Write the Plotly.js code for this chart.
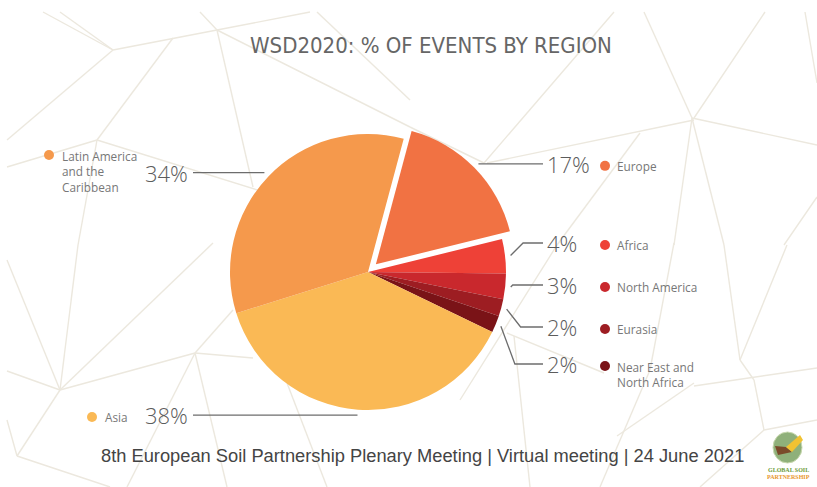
<!DOCTYPE html>
<html>
<head>
<meta charset="utf-8">
<script src="https://cdn.plot.ly/plotly-3.0.1.min.js"></script>
<style>
  html, body { margin: 0; padding: 0; background: #fff; }
  #chart { width: 817px; height: 487px; }
</style>
</head>
<body>
<div id="chart"></div>
<script>
// ----- data -----
const regions = ["Europe", "Africa", "North America", "Eurasia",
  "Near East and North Africa", "Asia", "Latin America and the Caribbean"];
const regionLabels = ["Europe", "Africa", "North America", "Eurasia",
  "Near East and<br>North Africa", "Asia", "Latin America<br>and the<br>Caribbean"];
const shares = [17, 4, 3, 2, 2, 38, 34];
const colors = ["#f17243", "#ee4137", "#c9282d", "#9d1d22", "#7a1317", "#fab955", "#f5994c"];
const pulls = [0.08, 0, 0, 0, 0, 0, 0];

// ----- geometry (px, page coords) -----
const W = 817, H = 487;
const CX = 368, CY = 272, R = 138, ROT = 15;
const maxPull = Math.max(...pulls);
const px = (x) => x / W;
const py = (y) => 1 - y / H;

// where each label sits: side, row y (null = keep leader horizontal), dot/name placement
const spots = [
  { side: "r", row: null },
  { side: "r", row: 243 },
  { side: "r", row: 285 },
  { side: "r", row: 327 },
  { side: "r", row: 364 },
  { side: "l", row: null, dotX: 92, dotY: 417, nameX: 103, nameY: 417, nameAnchor: "middle" },
  { side: "l", row: null, dotX: 49, dotY: 155, nameX: 60, nameY: 146, nameAnchor: "top" }
];

// background net (decoration)
const net = [
  [43,12,113,50],[113,50,217,30],[217,30,310,12],[200,12,217,30],[217,30,253,187],
  [217,30,410,127],[410,127,484,163],[113,50,7,140],[173,38,97,140],[97,140,7,167],
  [97,140,267,193],[97,140,78,245],[317,12,410,100],[614,12,484,163],[644,12,692,118],
  [765,12,694,118],[694,120,487,163],[692,118,817,145],[692,118,674,245],[692,118,724,245],
  [640,133,557,245],[805,12,817,83],[817,197,784,245],[7,260,60,390],[78,245,60,390],
  [7,371,60,390],[60,390,195,353],[195,353,253,358],[213,243,60,390],[195,353,233,310],
  [195,353,227,487],[195,353,127,487],[17,456,60,390],[17,456,110,487],[287,383,327,487],
  [674,243,650,370],[724,245,740,360],[787,245,740,360],[694,386,817,368],[507,333,604,373],
  [514,336,530,487],[754,380,764,430],[617,436,694,383],[557,245,460,400],[650,370,600,487],
  [740,360,754,380],[764,430,817,420],[764,430,700,487],[7,420,17,456],[60,12,113,50]
];

const shapes = net.map(([x0, y0, x1, y1]) => ({
  type: "line", xref: "paper", yref: "paper", layer: "below",
  x0: px(x0), y0: py(y0), x1: px(x1), y1: py(y1),
  line: { color: "#ece8de", width: 1.4 }
}));

const annotations = [];
const total = shares.reduce((a, b) => a + b, 0);
let cum = 0;
const textFont = { family: "Open Sans, sans-serif", size: 22, color: "#5c5c5c", weight: 300 };
const nameFont = { family: "Open Sans, sans-serif", size: 11.8, color: "#777" };

shares.forEach((v, i) => {
  const mid = (ROT + 360 * (cum + v / 2) / total) * Math.PI / 180;
  cum += v;
  const ox = CX + pulls[i] * R * Math.sin(mid);
  const oy = CY - pulls[i] * R * Math.cos(mid);
  const sx = ox + 1.04 * R * Math.sin(mid);
  const sy = oy - 1.04 * R * Math.cos(mid);
  const s = spots[i];
  const ly = s.row == null ? sy : s.row;
  let path;
  if (s.side === "r") {
    const dy = Math.abs(ly - sy);
    const ex = s.row == null ? sx : sx + Math.min(dy, 14);
    path = `M${px(sx)},${py(sy)} L${px(ex)},${py(ly)} L${px(543)},${py(ly)}`;
    annotations.push({ text: v + "%", xref: "paper", yref: "paper", x: px(545), y: py(ly),
      xanchor: "left", yanchor: "middle", showarrow: false, font: textFont });
    shapes.push({ type: "circle", xref: "paper", yref: "paper",
      x0: px(600), x1: px(610), y0: py(ly - 5 + 2), y1: py(ly + 5 + 2),
      fillcolor: colors[i], line: { width: 0 } });
    annotations.push({ text: regionLabels[i], xref: "paper", yref: "paper", x: px(615),
      y: py(ly + 2 - (regionLabels[i].includes("<br>") ? -8 : 0)),
      xanchor: "left", yanchor: "middle", align: "left", showarrow: false, font: nameFont });
  } else {
    path = `M${px(sx)},${py(sy)} L${px(193)},${py(ly)}`;
    annotations.push({ text: v + "%", xref: "paper", yref: "paper", x: px(190), y: py(ly),
      xanchor: "right", yanchor: "middle", showarrow: false, font: textFont });
    shapes.push({ type: "circle", xref: "paper", yref: "paper",
      x0: px(s.dotX - 5), x1: px(s.dotX + 5), y0: py(s.dotY - 5), y1: py(s.dotY + 5),
      fillcolor: colors[i], line: { width: 0 } });
    annotations.push({ text: regionLabels[i], xref: "paper", yref: "paper", x: px(s.nameX),
      y: py(s.nameY), xanchor: "left", yanchor: s.nameAnchor, align: "left",
      showarrow: false, font: nameFont });
  }
  shapes.push({ type: "path", xref: "paper", yref: "paper", path: path,
    line: { color: "#6d6d6d", width: 1.3 } });
});

// title, footer, logo
annotations.push({
  text: "WSD2020: % OF EVENTS BY REGION", xref: "paper", yref: "paper",
  x: px(431), y: py(46), xanchor: "center", yanchor: "middle", showarrow: false,
  font: { family: "Liberation Sans Narrow, DejaVu Sans Condensed, sans-serif", size: 22, color: "#666" }
});
annotations.push({
  text: "8th European Soil Partnership Plenary Meeting | Virtual meeting | 24 June 2021",
  xref: "paper", yref: "paper", x: px(422), y: py(455), xanchor: "center", yanchor: "middle",
  showarrow: false,
  font: { family: "Liberation Sans Narrow, sans-serif", size: 18.3, color: "#444" }
});
shapes.push({ type: "circle", xref: "paper", yref: "paper",
  x0: px(773), x1: px(802), y0: py(432), y1: py(463),
  fillcolor: "#8fb07a", line: { color: "#c9d9b0", width: 1 } });
shapes.push({ type: "path", xref: "paper", yref: "paper",
  path: `M${px(775)},${py(446)} L${px(786)},${py(447)} L${px(792)},${py(452)} L${px(778)},${py(455)} Z`,
  fillcolor: "#7a4a2a", line: { width: 0 } });
shapes.push({ type: "path", xref: "paper", yref: "paper",
  path: `M${px(786)},${py(447)} L${px(800)},${py(435)} L${px(803)},${py(440)} L${px(792)},${py(452)} Z`,
  fillcolor: "#f1c232", line: { width: 0 } });
annotations.push({ text: "<b>GLOBAL SOIL</b>", xref: "paper", yref: "paper", x: px(788), y: py(470),
  xanchor: "center", yanchor: "middle", showarrow: false,
  font: { family: "Liberation Serif, serif", size: 6, color: "#6a9a3a" } });
annotations.push({ text: "<b>PARTNERSHIP</b>", xref: "paper", yref: "paper", x: px(788), y: py(477),
  xanchor: "center", yanchor: "middle", showarrow: false,
  font: { family: "Liberation Serif, serif", size: 6, color: "#e8962c" } });

const half = R * (1 + maxPull);
const traces = [{
  type: "pie",
  labels: regions,
  values: shares,
  sort: false,
  direction: "clockwise",
  rotation: ROT,
  pull: pulls,
  marker: { colors: colors, line: { width: 0 } },
  textinfo: "none",
  hoverinfo: "label+percent",
  domain: { x: [px(CX - half), px(CX + half)], y: [py(CY + half), py(CY - half)] }
}];

const layout = {
  width: W, height: H,
  margin: { l: 0, r: 0, t: 0, b: 0 },
  paper_bgcolor: "#ffffff",
  showlegend: false,
  shapes: shapes,
  annotations: annotations
};

Plotly.newPlot("chart", traces, layout, { displayModeBar: false, staticPlot: true });
</script>
</body>
</html>
